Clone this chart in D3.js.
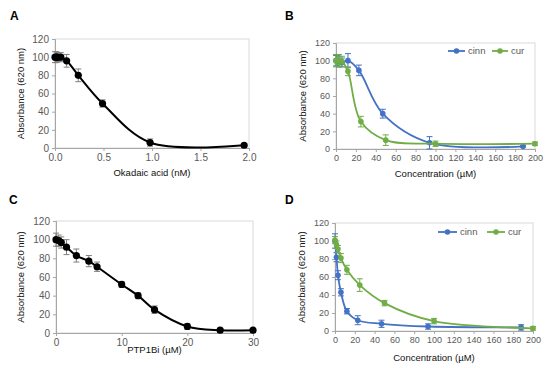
<!DOCTYPE html>
<html>
<head>
<meta charset="utf-8">
<script src="https://cdn.jsdelivr.net/npm/d3@7"></script>
<style>
  body { margin: 0; background: #fff; }
  svg { display: block; font-family: "Liberation Sans", Arial, sans-serif; }
</style>
</head>
<body>
<script>
// ---- data ----
const yTicks = [0, 20, 40, 60, 80, 100, 120];

// A: okadaic acid
const okaConc = [0, 0.015, 0.03, 0.06, 0.12, 0.24, 0.49, 0.98, 1.95];
const okaAbs = [100, 100, 100, 100, 96, 80, 49, 6, 3];
const okaErr = [6, 6, 5, 5, 7, 7, 4, 4, 2];
const okaTicks = [0, 0.5, 1.0, 1.5, 2.0];

// B: cinn / cur, first assay
const bCinnConc = [0, 1.5, 3, 6, 12, 23, 47, 94, 188];
const bCinnAbs = [100, 100, 99, 98, 100, 89, 40, 7, 3];
const bCinnErr = [6, 6, 6, 5, 8, 6, 5, 7, 1];
const bCurConc = [0, 1.5, 3, 6, 12, 25, 50, 100, 200];
const bCurAbs = [100, 101, 100, 99, 88, 31, 10, 6, 6];
const bCurErr = [7, 6, 7, 6, 5, 6, 6, 3, 2];

// C: PTP1Bi
const ptpConc = [0, 0.4, 0.8, 1.6, 3.1, 5, 6.25, 10, 12.5, 15, 20, 25, 30];
const ptpAbs = [100, 99, 97, 92, 83, 77, 71, 52, 40, 25, 7, 3, 3];
const ptpErr = [7, 6, 6, 8, 7, 6, 5, 3, 3, 4, 3, 2, 1];
const ptpTicks = [0, 10, 20, 30];

// D: cinn / cur, second assay
const dCinnConc = [0, 1.5, 3, 6, 12, 23, 47, 94, 188];
const dCinnAbs = [100, 82, 62, 43, 22, 12, 8, 5, 4];
const dCinnErr = [8, 5, 5, 4, 3, 5, 4, 3, 3];
const dCurConc = [0, 1.5, 3, 6, 12, 25, 50, 100, 200];
const dCurAbs = [101, 96, 91, 81, 68, 51, 31, 11, 3];
const dCurErr = [4, 4, 4, 5, 5, 7, 3, 3, 2];

const concTicks = d3.range(0, 201, 20);

const blue = '#4472C4';
const green = '#70AD47';

const toPts = (xs, ys, es) => xs.map((x, i) => ({ x, y: ys[i], e: es[i] }));

const svg = d3.select('body').append('svg')
  .attr('width', 550).attr('height', 368);

// panel layout
const panels = [
  {
    label: 'A', lx: 10, ly: 20, left: 55, right: 249, top: 39, bottom: 148,
    xDomain: [0, 2], xTicks: okaTicks, xFmt: d3.format('.1f'), tickSize: 10,
    xTitle: 'Okadaic acid (nM)', xTitleY: 176, yTitleX: 24,
    series: [{ pts: toPts(okaConc, okaAbs, okaErr), color: '#000', err: '#7f7f7f', r: 3.6, w: 2 }]
  },
  {
    label: 'B', lx: 285, ly: 20, left: 336, right: 535, top: 43, bottom: 149,
    xDomain: [0, 200], xTicks: concTicks, xFmt: d3.format('d'), tickSize: 9,
    xTitle: 'Concentration (µM)', xTitleY: 177, yTitleX: 306,
    legendY: 51, legend: [{ name: 'cinn', x0: 448, x1: 465 }, { name: 'cur', x0: 492, x1: 508 }],
    series: [
      { name: 'cinn', pts: toPts(bCinnConc, bCinnAbs, bCinnErr), color: blue, err: blue, r: 2.8, w: 1.8 },
      { name: 'cur', pts: toPts(bCurConc, bCurAbs, bCurErr), color: green, err: green, r: 2.8, w: 1.8 }
    ]
  },
  {
    label: 'C', lx: 9, ly: 204, left: 56, right: 253, top: 221, bottom: 333,
    xDomain: [0, 30], xTicks: ptpTicks, xFmt: d3.format('d'), tickSize: 10,
    xTitle: 'PTP1Bi (µM)', xTitleY: 353, yTitleX: 24,
    series: [{ pts: toPts(ptpConc, ptpAbs, ptpErr), color: '#000', err: '#7f7f7f', r: 3.6, w: 2 }]
  },
  {
    label: 'D', lx: 285, ly: 204, left: 335, right: 533, top: 223, bottom: 331,
    xDomain: [0, 200], xTicks: concTicks, xFmt: d3.format('d'), tickSize: 9,
    xTitle: 'Concentration (µM)', xTitleY: 361, yTitleX: 305,
    legendY: 232, legend: [{ name: 'cinn', x0: 438, x1: 457 }, { name: 'cur', x0: 487, x1: 505 }],
    series: [
      { name: 'cinn', pts: toPts(dCinnConc, dCinnAbs, dCinnErr), color: blue, err: blue, r: 2.8, w: 1.8 },
      { name: 'cur', pts: toPts(dCurConc, dCurAbs, dCurErr), color: green, err: green, r: 2.8, w: 1.8 }
    ]
  }
];

panels.forEach((p) => {
  const x = d3.scaleLinear().domain(p.xDomain).range([p.left, p.right]);
  const y = d3.scaleLinear().domain([0, 120]).range([p.bottom, p.top]);
  const g = svg.append('g');

  // panel letter
  g.append('text')
    .attr('x', p.lx).attr('y', p.ly)
    .attr('font-size', 12).attr('font-weight', 'bold').attr('fill', '#000')
    .text(p.label);

  // plot box
  g.append('rect')
    .attr('x', p.left).attr('y', p.top)
    .attr('width', p.right - p.left).attr('height', p.bottom - p.top)
    .attr('fill', 'none').attr('stroke', '#d9d9d9').attr('stroke-width', 1);

  // y axis
  const yAxis = g.append('g')
    .attr('transform', `translate(${p.left},0)`)
    .call(d3.axisLeft(y).tickValues(yTicks).tickSize(3).tickPadding(3));
  // x axis
  const xAxis = g.append('g')
    .attr('transform', `translate(0,${p.bottom})`)
    .call(d3.axisBottom(x).tickValues(p.xTicks).tickFormat(p.xFmt).tickSize(3).tickPadding(3));

  [yAxis, xAxis].forEach((a) => {
    a.select('.domain').attr('stroke', '#a6a6a6');
    a.selectAll('.tick line').attr('stroke', '#a6a6a6');
    a.selectAll('.tick text')
      .attr('fill', '#595959')
      .attr('font-size', p.tickSize)
      .attr('font-family', '"Liberation Sans", Arial, sans-serif');
  });

  // axis titles
  g.append('text')
    .attr('x', (p.left + p.right) / 2).attr('y', p.xTitleY)
    .attr('text-anchor', 'middle').attr('font-size', 9.5).attr('fill', '#111')
    .text(p.xTitle);
  g.append('text')
    .attr('transform', `translate(${p.yTitleX},${(p.top + p.bottom) / 2}) rotate(-90)`)
    .attr('text-anchor', 'middle').attr('font-size', 9.5).attr('fill', '#111')
    .text('Absorbance (620 nm)');

  const line = d3.line()
    .x((d) => x(d.x)).y((d) => y(d.y))
    .curve(d3.curveCatmullRom.alpha(0.5));

  p.series.forEach((s) => {
    const sg = g.append('g');
    // error bars
    const eb = sg.append('g').attr('stroke', s.err).attr('stroke-width', 1).attr('fill', 'none');
    eb.selectAll('line.v').data(s.pts).join('line')
      .attr('x1', (d) => x(d.x)).attr('x2', (d) => x(d.x))
      .attr('y1', (d) => y(d.y - d.e)).attr('y2', (d) => y(d.y + d.e));
    eb.selectAll('line.t').data(s.pts).join('line').attr('class', 't')
      .attr('x1', (d) => x(d.x) - 3).attr('x2', (d) => x(d.x) + 3)
      .attr('y1', (d) => y(d.y + d.e)).attr('y2', (d) => y(d.y + d.e));
    eb.selectAll('line.b').data(s.pts).join('line').attr('class', 'b')
      .attr('x1', (d) => x(d.x) - 3).attr('x2', (d) => x(d.x) + 3)
      .attr('y1', (d) => y(d.y - d.e)).attr('y2', (d) => y(d.y - d.e));

    // smoothed line
    sg.append('path').datum(s.pts)
      .attr('d', line)
      .attr('fill', 'none').attr('stroke', s.color).attr('stroke-width', s.w);

    // markers
    sg.selectAll('circle').data(s.pts).join('circle')
      .attr('cx', (d) => x(d.x)).attr('cy', (d) => y(d.y))
      .attr('r', s.r).attr('fill', s.color);
  });

  // legend
  if (p.legend) {
    p.legend.forEach((l, i) => {
      const s = p.series[i];
      const lg = g.append('g');
      lg.append('line')
        .attr('x1', l.x0).attr('x2', l.x1).attr('y1', p.legendY).attr('y2', p.legendY)
        .attr('stroke', s.color).attr('stroke-width', 1.8);
      lg.append('circle')
        .attr('cx', (l.x0 + l.x1) / 2).attr('cy', p.legendY).attr('r', 2.8).attr('fill', s.color);
      lg.append('text')
        .attr('x', l.x1 + 3).attr('y', p.legendY).attr('dy', '0.35em')
        .attr('font-size', 9.5).attr('fill', '#595959')
        .text(l.name);
    });
  }
});
</script>
</body>
</html>
